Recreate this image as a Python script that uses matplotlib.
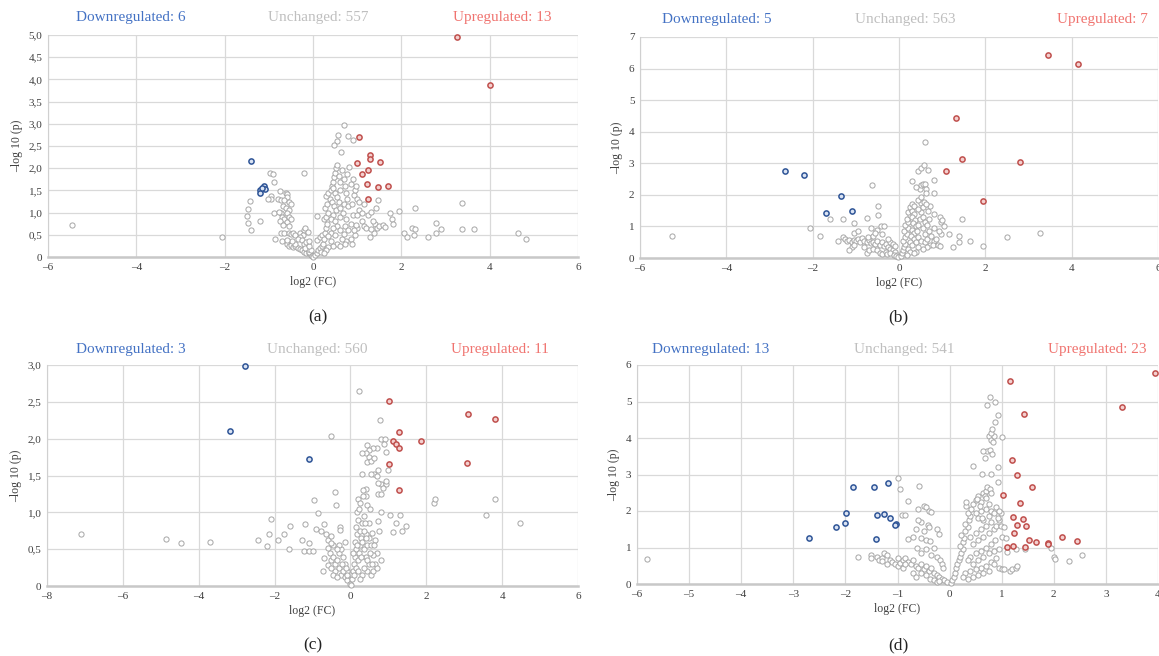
import matplotlib
matplotlib.use("Agg")
from matplotlib import pyplot as plt
from matplotlib.ticker import FuncFormatter

plt.rcParams['font.family'] = ['Liberation Serif', 'DejaVu Serif']

W, H = 1159, 656

# ---- panel (a) ----
a_up = [(3.25, 4.95), (4.0, 3.88), (1.05, 2.71), (1.28, 2.29), (1.28, 2.2), (1.52, 2.13),
        (1.0, 2.11), (1.24, 1.97), (1.1, 1.87), (1.22, 1.65), (1.48, 1.57), (1.7, 1.6), (1.25, 1.3)]
a_down = [(-1.4, 2.16), (-1.11, 1.59), (-1.09, 1.54), (-1.19, 1.52), (-1.19, 1.44), (-1.15, 1.56)]
a_grey = [(-5.45, 0.71), (-2.05, 0.45), (-1.42, 1.27), (-1.47, 1.07), (-1.5, 0.93), (-1.47, 0.76),
          (-1.4, 0.6), (-1.2, 0.82), (-0.98, 1.89), (-0.91, 1.87), (-0.88, 1.68), (-0.75, 1.48),
          (-0.95, 1.38), (-0.96, 1.3), (-0.88, 0.98), (-0.85, 0.4), (-1.03, 1.3), (-0.8, 1.3),
          (-0.72, 1.28), (-0.62, 1.45), (-0.58, 1.42), (-0.6, 1.35), (-0.65, 1.28), (-0.55, 1.25),
          (-0.5, 1.2), (-0.68, 1.15), (-0.62, 1.1), (-0.72, 1.0), (-0.78, 1.02), (-0.55, 1.05),
          (-0.6, 0.98), (-0.7, 0.9), (-0.65, 0.85), (-0.75, 0.8), (-0.55, 0.9), (-0.6, 0.78),
          (-0.68, 0.72), (-0.55, 0.7), (-0.5, 0.85), (-0.72, 0.55), (-0.65, 0.55), (-0.55, 0.55),
          (-0.5, 0.52), (-0.45, 0.55), (-0.4, 0.5), (-0.3, 0.55), (-0.2, 0.6), (-0.18, 0.65),
          (-0.12, 0.57), (-0.22, 0.5), (-0.3, 0.45), (-0.35, 0.4), (-0.25, 0.38), (-0.2, 0.3),
          (-0.15, 0.33), (-0.7, 0.35), (-0.6, 0.3), (-0.55, 0.25), (-0.5, 0.28), (-0.45, 0.22),
          (-0.4, 0.25), (-0.35, 0.2), (-0.3, 0.18), (-0.25, 0.15), (-0.2, 0.12), (-0.15, 0.1),
          (-0.1, 0.08), (-0.05, 0.04), (-0.08, 0.12), (-0.12, 0.18), (-0.18, 0.2), (-0.05, 0.15),
          (-0.1, 0.25), (-0.4, 0.3), (-0.48, 0.35), (-0.58, 0.38), (-0.08, 0.35), (-0.02, 0.02),
          (0.0, 0.0), (-0.2, 1.89),
          (0.1, 0.93), (0.05, 0.05), (0.08, 0.1), (0.12, 0.15), (0.15, 0.2), (0.18, 0.12),
          (0.2, 0.25), (0.22, 0.3), (0.1, 0.38), (0.15, 0.45), (0.2, 0.5), (0.25, 0.4),
          (0.28, 0.55), (0.3, 0.65), (0.32, 0.75), (0.25, 0.85), (0.3, 0.9), (0.35, 1.0),
          (0.28, 1.1), (0.32, 1.2), (0.38, 1.3), (0.3, 1.38), (0.35, 1.45), (0.4, 1.5),
          (0.42, 1.6), (0.45, 1.7), (0.48, 1.8), (0.5, 1.9), (0.52, 2.0), (0.55, 2.08),
          (0.45, 1.55), (0.5, 1.45), (0.55, 1.35), (0.42, 1.25), (0.48, 1.15), (0.52, 1.05),
          (0.45, 0.95), (0.4, 0.85), (0.5, 0.8), (0.55, 0.7), (0.45, 0.65), (0.4, 0.55),
          (0.35, 0.48), (0.5, 0.5), (0.6, 0.6), (0.62, 0.9), (0.6, 1.1), (0.58, 1.25),
          (0.62, 1.5), (0.6, 1.7), (0.58, 1.82), (0.65, 1.95), (0.7, 1.75), (0.72, 1.6),
          (0.75, 1.45), (0.78, 1.3), (0.7, 1.2), (0.8, 1.15), (0.68, 1.0), (0.75, 0.85),
          (0.72, 0.7), (0.8, 0.6), (0.85, 0.75), (0.9, 0.95), (0.88, 1.2), (0.92, 1.4),
          (0.95, 1.5), (0.85, 1.65), (0.9, 1.75), (0.78, 1.88), (0.98, 1.6), (1.0, 1.3),
          (1.05, 1.05), (1.1, 0.8), (1.15, 0.7), (1.0, 0.65), (0.95, 0.5), (0.85, 0.4),
          (0.75, 0.35), (0.65, 0.4), (0.55, 0.3), (0.45, 0.25), (0.35, 0.22), (0.3, 0.15),
          (0.25, 0.1), (0.4, 0.35), (0.88, 0.3), (1.2, 0.65), (1.25, 0.95), (1.32, 1.02),
          (1.4, 0.75), (1.45, 0.65), (1.38, 0.55), (1.5, 0.7), (1.58, 0.72), (1.42, 1.1),
          (1.48, 1.29), (1.35, 0.8), (1.28, 0.45), (1.1, 1.0), (1.05, 1.25), (1.0, 0.95),
          (1.15, 1.2), (0.98, 0.72), (1.32, 0.62), (0.92, 0.6), (0.7, 0.52), (0.62, 0.25),
          (0.72, 0.3), (1.62, 0.68),
          (0.7, 2.97), (0.57, 2.75), (0.55, 2.62), (0.48, 2.52), (0.79, 2.73), (0.9, 2.63),
          (0.63, 2.36), (0.82, 2.03), (3.37, 1.22), (2.3, 1.1), (1.95, 1.04), (1.75, 1.0),
          (1.78, 0.85), (1.8, 0.75), (2.25, 0.65), (2.3, 0.63), (2.05, 0.55), (2.12, 0.46),
          (2.28, 0.5), (2.6, 0.45), (2.78, 0.77), (2.78, 0.53), (2.9, 0.63), (3.38, 0.63),
          (3.65, 0.63), (4.65, 0.55), (4.82, 0.4)]

# ---- panel (b) ----
b_up = [(3.45, 6.42), (4.15, 6.15), (1.33, 4.45), (1.45, 3.15), (2.8, 3.05), (1.1, 2.77), (1.95, 1.81)]
b_down = [(-2.63, 2.77), (-2.2, 2.64), (-1.35, 1.95), (-1.1, 1.5), (-1.68, 1.41)]
b_grey = [(-5.25, 0.69), (-2.07, 0.95), (-1.83, 0.69), (-1.6, 1.25), (-1.3, 1.25), (-1.05, 1.1),
          (-1.05, 0.8), (-0.95, 0.85), (-0.73, 1.28), (-0.62, 2.31), (-0.48, 1.65), (-0.48, 1.35),
          (-0.5, 0.9), (-0.42, 1.0), (-0.35, 1.02), (-0.65, 0.95),
          (-1.42, 0.55), (-1.3, 0.68), (-1.25, 0.6), (-1.2, 0.55), (-1.15, 0.58), (-1.1, 0.52),
          (-1.05, 0.58), (-1.0, 0.55), (-0.95, 0.6), (-0.9, 0.52), (-0.85, 0.62), (-0.8, 0.55),
          (-0.75, 0.5), (-0.7, 0.58), (-0.65, 0.48), (-0.6, 0.52), (-0.55, 0.45), (-0.5, 0.55),
          (-0.45, 0.42), (-0.4, 0.5), (-0.35, 0.38), (-0.3, 0.45), (-0.25, 0.35), (-0.2, 0.3),
          (-0.15, 0.25), (-0.1, 0.2), (-0.05, 0.1), (-1.1, 0.35), (-1.15, 0.25), (-1.05, 0.4),
          (-0.72, 0.68), (-0.6, 0.7), (-0.55, 0.8), (-0.8, 0.35), (-0.75, 0.15), (-0.7, 0.25),
          (-0.6, 0.3), (-0.5, 0.25), (-0.45, 0.15), (-0.4, 0.12), (-0.3, 0.2), (-0.28, 0.12),
          (-0.2, 0.15), (-0.12, 0.1), (-0.08, 0.05), (-0.2, 0.5), (-0.15, 0.45), (-0.1, 0.38),
          (-0.25, 0.6), (-0.02, 0.02), (-0.4, 0.75),
          (0.05, 0.05), (0.08, 0.15), (0.1, 0.25), (0.12, 0.35), (0.15, 0.45), (0.1, 0.55),
          (0.15, 0.65), (0.18, 0.75), (0.12, 0.85), (0.2, 0.95), (0.15, 1.05), (0.22, 1.15),
          (0.18, 1.25), (0.25, 1.35), (0.2, 1.45), (0.28, 1.55), (0.25, 1.62), (0.3, 1.7),
          (0.35, 1.65), (0.3, 1.5), (0.35, 1.4), (0.3, 1.3), (0.38, 1.2), (0.32, 1.1),
          (0.4, 1.0), (0.3, 0.9), (0.35, 0.8), (0.28, 0.7), (0.35, 0.6), (0.25, 0.5),
          (0.3, 0.4), (0.2, 0.3), (0.25, 0.2), (0.18, 0.1), (0.4, 0.5), (0.45, 0.65),
          (0.42, 0.85), (0.45, 1.05), (0.48, 1.25), (0.5, 1.45), (0.45, 1.55), (0.5, 1.75),
          (0.55, 1.6), (0.55, 1.3), (0.6, 1.15), (0.55, 0.95), (0.6, 0.75), (0.52, 0.55),
          (0.6, 0.5), (0.65, 0.6), (0.7, 0.85), (0.65, 1.05), (0.7, 1.25), (0.68, 1.5),
          (0.72, 1.65), (0.45, 1.85), (0.5, 1.92), (0.58, 1.78), (0.62, 1.72), (0.8, 1.4),
          (0.82, 0.95), (0.75, 0.7), (0.8, 0.55), (0.72, 0.4), (0.78, 0.4), (0.65, 0.35),
          (0.55, 0.3), (0.45, 0.35), (0.4, 0.2), (0.35, 0.15), (0.48, 2.2), (0.52, 2.3),
          (0.55, 2.35), (0.6, 2.35), (0.62, 2.2), (0.4, 2.25), (0.62, 2.05), (0.45, 2.75),
          (0.52, 2.85), (0.58, 2.95), (0.67, 2.8), (0.3, 2.45), (0.82, 2.48), (0.82, 2.05),
          (0.6, 3.67), (0.9, 0.4), (0.95, 0.38), (0.98, 0.75), (0.98, 1.15), (0.95, 1.3),
          (1.0, 1.2), (1.05, 1.0), (1.15, 0.75), (1.25, 0.35), (1.38, 0.7), (1.4, 0.5),
          (1.45, 1.25), (1.65, 0.55), (1.95, 0.38), (2.5, 0.65), (3.27, 0.78), (0.85, 0.6),
          (0.92, 0.85)]

# ---- panel (c) ----
c_up = [(1.02, 2.51), (3.1, 2.34), (3.8, 2.27), (1.27, 2.09), (1.85, 1.97), (1.13, 1.97),
        (1.2, 1.93), (1.27, 1.87), (1.02, 1.65), (3.08, 1.67), (1.27, 1.3)]
c_down = [(-2.77, 2.99), (-3.17, 2.1), (-1.1, 1.72)]
c_grey = [(-7.1, 0.7), (-4.87, 0.64), (-4.47, 0.58), (-3.7, 0.6), (-2.43, 0.62), (-2.2, 0.54),
          (-2.15, 0.7), (-2.1, 0.91), (-1.92, 0.62), (-1.75, 0.71), (-1.6, 0.81), (-1.62, 0.5),
          (-1.28, 0.63), (-1.2, 0.84), (-1.22, 0.48), (-1.08, 0.58), (-1.08, 0.48), (-0.95, 1.17),
          (-0.85, 0.99), (-0.98, 0.48), (-0.9, 0.77), (-0.78, 0.75), (-0.7, 0.84), (-0.65, 0.7),
          (-0.6, 0.62), (-0.5, 0.68), (-0.4, 1.27), (-0.38, 1.1), (-0.5, 2.03), (-0.28, 0.8),
          (-0.28, 0.76), (-0.15, 0.6), (0.22, 2.65), (0.78, 2.25), (0.8, 2.0), (0.9, 2.0),
          (0.88, 1.93), (0.95, 1.82), (0.7, 1.87), (0.6, 1.88), (0.45, 1.92), (0.5, 1.85),
          (0.4, 1.8), (0.3, 1.8), (0.5, 1.75), (0.45, 1.68), (0.55, 1.7), (0.62, 1.74),
          (0.72, 1.57), (0.98, 1.57), (0.62, 1.52), (0.55, 1.52), (0.3, 1.52), (0.7, 1.5),
          (0.8, 1.38), (0.95, 1.38), (0.95, 1.42), (0.85, 1.33), (0.72, 1.4), (0.4, 1.32),
          (0.32, 1.3), (0.4, 1.22), (0.32, 1.22), (0.2, 1.18), (0.25, 1.12), (0.45, 1.1),
          (0.52, 1.05), (0.8, 1.01), (0.72, 1.25), (0.8, 1.25), (1.05, 0.96), (1.3, 0.97),
          (1.2, 0.86), (1.47, 0.81), (1.35, 0.75), (1.12, 0.73), (2.2, 1.12), (2.22, 1.18),
          (3.58, 0.97), (3.8, 1.18), (4.47, 0.86), (0.72, 0.88), (0.75, 0.75), (0.8, 0.35),
          (0.65, 0.62), (0.7, 0.45),
          (-0.55, 0.45), (-0.5, 0.35), (-0.45, 0.4), (-0.4, 0.3), (-0.35, 0.35), (-0.3, 0.45),
          (-0.25, 0.5), (-0.2, 0.4), (-0.15, 0.3), (-0.1, 0.2), (-0.05, 0.1), (-0.4, 0.2),
          (-0.3, 0.25), (-0.25, 0.15), (-0.2, 0.2), (-0.15, 0.12), (-0.1, 0.08), (-0.3, 0.55),
          (-0.45, 0.55), (-0.35, 0.5), (-0.22, 0.3), (-0.12, 0.25), (-0.08, 0.15), (-0.02, 0.03),
          (-0.6, 0.28), (-0.45, 0.15), (-0.35, 0.12), (-0.7, 0.38), (-0.72, 0.2), (-0.5, 0.25),
          (-0.6, 0.52), (-0.5, 0.58),
          (0.02, 0.02), (0.05, 0.1), (0.08, 0.2), (0.1, 0.3), (0.12, 0.4), (0.15, 0.5),
          (0.12, 0.6), (0.18, 0.7), (0.15, 0.8), (0.2, 0.9), (0.18, 1.0), (0.15, 0.25),
          (0.2, 0.35), (0.22, 0.45), (0.25, 0.55), (0.28, 0.65), (0.25, 0.75), (0.3, 0.85),
          (0.35, 0.95), (0.22, 1.05), (0.3, 0.6), (0.35, 0.5), (0.4, 0.4), (0.45, 0.55),
          (0.5, 0.65), (0.42, 0.7), (0.55, 0.55), (0.6, 0.42), (0.5, 0.3), (0.45, 0.2),
          (0.55, 0.15), (0.6, 0.2), (0.65, 0.3), (0.7, 0.25), (0.35, 0.25), (0.3, 0.15),
          (0.25, 0.1), (0.4, 0.65), (0.35, 0.75), (0.48, 0.85), (0.52, 0.45), (0.58, 0.72),
          (0.62, 0.55), (0.1, 0.15), (0.08, 0.45), (0.18, 0.55), (0.38, 0.85), (0.28, 0.4),
          (0.2, 0.2), (0.45, 0.35), (0.58, 0.3)]

# ---- panel (d) ----
d_up = [(3.95, 5.78), (1.15, 5.57), (3.3, 4.85), (1.42, 4.65), (1.2, 3.4), (1.3, 3.0),
        (1.58, 2.67), (1.03, 2.43), (1.35, 2.23), (1.22, 1.83), (1.4, 1.77), (1.3, 1.62),
        (1.47, 1.58), (1.23, 1.4), (1.53, 1.2), (1.65, 1.14), (1.88, 1.13), (1.88, 1.1),
        (2.15, 1.29), (2.44, 1.18), (1.1, 1.02), (1.22, 1.04), (1.45, 1.02)]
d_down = [(-1.85, 2.67), (-1.45, 2.65), (-1.18, 2.77), (-1.98, 1.95), (-1.4, 1.88), (-1.25, 1.92),
          (-1.15, 1.8), (-2.0, 1.68), (-1.02, 1.65), (-1.05, 1.62), (-2.18, 1.55), (-2.7, 1.27),
          (-1.42, 1.22)]
d_grey = [(-5.8, 0.68), (-1.75, 0.73), (-1.5, 0.8), (-1.5, 0.7), (-1.4, 0.75), (-1.35, 0.65),
          (-1.3, 0.72), (-1.25, 0.85), (-1.2, 0.8), (-1.15, 0.65), (-1.1, 0.6), (-1.05, 0.55),
          (-1.0, 0.5), (-0.95, 0.58), (-0.9, 0.65), (-0.85, 0.7), (-0.8, 0.6), (-0.75, 0.55),
          (-0.7, 0.65), (-0.65, 0.5), (-0.6, 0.45), (-0.55, 0.55), (-0.5, 0.4), (-0.45, 0.5),
          (-0.4, 0.35), (-0.35, 0.45), (-0.3, 0.3), (-0.25, 0.25), (-0.2, 0.2), (-0.15, 0.15),
          (-0.1, 0.1), (-0.05, 0.05), (-1.0, 2.9), (-0.95, 2.6), (-0.58, 2.68), (-0.8, 2.28),
          (-0.92, 1.9), (-0.85, 1.9), (-0.6, 2.05), (-0.5, 2.15), (-0.45, 2.1), (-0.4, 2.0),
          (-0.35, 1.98), (-0.55, 1.7), (-0.6, 1.75), (-0.65, 1.5), (-0.5, 1.45), (-0.42, 1.62),
          (-0.4, 1.55), (-0.25, 1.5), (-0.2, 1.38), (-0.8, 1.22), (-0.7, 1.3), (-0.55, 1.25),
          (-0.45, 1.2), (-0.38, 1.18), (-0.3, 1.0), (-0.55, 0.85), (-0.62, 1.0), (-0.45, 0.95),
          (-0.35, 0.8), (-0.25, 0.75), (-0.18, 0.65), (-0.15, 0.55), (-0.12, 0.45), (-0.7, 0.3),
          (-0.65, 0.2), (-0.55, 0.3), (-0.45, 0.25), (-0.38, 0.15), (-0.3, 0.1), (-0.25, 0.05),
          (-0.2, 0.08), (-0.9, 0.45), (-0.85, 0.55), (-1.2, 0.55), (-1.3, 0.62), (-1.0, 0.72),
          (0.02, 0.02), (0.05, 0.1), (0.08, 0.2), (0.1, 0.3), (0.12, 0.45), (0.15, 0.55),
          (0.18, 0.65), (0.2, 0.75), (0.22, 0.85), (0.25, 0.95), (0.2, 1.05), (0.25, 1.15),
          (0.28, 1.25), (0.22, 1.35), (0.3, 1.45), (0.35, 1.55), (0.3, 1.65), (0.38, 1.75),
          (0.4, 1.85), (0.35, 1.95), (0.42, 2.05), (0.45, 2.2), (0.5, 2.3), (0.55, 2.4),
          (0.6, 2.25), (0.65, 2.5), (0.7, 2.55), (0.72, 2.65), (0.68, 2.4), (0.75, 2.2),
          (0.7, 2.05), (0.6, 2.0), (0.5, 1.95), (0.55, 1.8), (0.65, 1.75), (0.75, 1.85),
          (0.8, 2.0), (0.85, 1.95), (0.9, 2.1), (0.8, 1.7), (0.7, 1.6), (0.6, 1.5),
          (0.5, 1.4), (0.4, 1.3), (0.45, 1.1), (0.55, 1.2), (0.65, 1.3), (0.75, 1.4),
          (0.85, 1.5), (0.9, 1.6), (0.95, 1.75), (0.88, 1.2), (0.8, 1.1), (0.7, 1.0),
          (0.6, 0.9), (0.5, 0.85), (0.4, 0.75), (0.35, 0.65), (0.45, 0.55), (0.55, 0.65),
          (0.65, 0.75), (0.75, 0.85), (0.85, 0.9), (0.95, 0.95), (0.9, 0.7), (0.8, 0.6),
          (0.7, 0.5), (0.6, 0.45), (0.5, 0.4), (0.4, 0.35), (0.3, 0.3), (0.25, 0.2),
          (0.35, 0.15), (0.45, 0.2), (0.55, 0.25), (0.65, 0.3), (0.75, 0.35), (0.85, 0.55),
          (0.95, 0.45), (1.0, 0.4), (1.05, 0.42), (1.15, 0.35), (1.2, 0.4), (1.28, 0.45),
          (1.3, 0.48), (1.1, 0.88), (1.0, 1.3), (0.98, 1.6), (1.45, 0.95), (1.28, 0.95),
          (1.95, 0.98), (2.0, 0.73), (2.02, 0.68), (2.3, 0.63), (2.55, 0.8),
          (0.45, 3.22), (0.62, 3.02), (0.8, 3.02), (0.72, 3.65), (0.65, 3.65), (0.78, 3.68),
          (0.82, 3.55), (0.68, 3.45), (0.75, 4.05), (0.8, 3.95), (0.83, 3.9), (0.85, 4.05),
          (0.8, 4.15), (0.82, 4.25), (0.88, 4.45), (0.92, 4.62), (0.88, 4.98), (0.78, 5.12),
          (0.72, 4.9), (1.0, 4.02), (0.92, 3.2), (0.92, 2.8), (0.78, 2.6), (0.8, 2.5),
          (0.7, 2.35), (0.58, 2.15), (0.32, 2.15), (0.32, 2.25), (0.52, 2.32), (0.98, 1.95),
          (0.95, 2.0), (0.92, 1.8), (0.62, 1.8), (1.08, 1.25), (1.05, 1.55)]

counts = {'a': (6, 557, 13), 'b': (5, 563, 7), 'c': (3, 560, 11), 'd': (13, 541, 23)}

BLUE_TXT, GREY_TXT, RED_TXT = '#4472C4', '#BFBFBF', '#F07470'


def px_rect(l, r, t, b):
    return [l / W, 1 - b / H, (r - l) / W, (b - t) / H]


def comma(v, pos):
    if abs(v) < 1e-9:
        return '0'
    return f'{v:.1f}'.replace('.', ',')


def integer(v, pos):
    return f'{v:.0f}'.replace('-', '\u2212')


def xfmt(v, pos):
    return f'{v:.0f}'.replace('-', '\u2013')


def panel(rect, grey, down, up, xlim, xstep, ylim, ystep, yfmt):
    ax = fig.add_axes(rect)
    for pts, ec, fc, lw in [(grey, '#A6A6A6', 'white', 0.7),
                            (down, '#2F5597', '#DAE3F3', 1.1),
                            (up, '#C0504D', '#F4D0CF', 1.1)]:
        xs = [p[0] for p in pts]
        ys = [p[1] for p in pts]
        ax.scatter(xs, ys, s=14, facecolors=fc, edgecolors=ec, linewidths=lw, zorder=3,
                   clip_on=False)
    ax.set_xlim(*xlim)
    ax.set_ylim(*ylim)
    xt = []
    v = xlim[0]
    while v <= xlim[1] + 1e-9:
        xt.append(v)
        v += xstep
    yt = []
    v = ylim[0]
    while v <= ylim[1] + 1e-9:
        yt.append(v)
        v += ystep
    ax.set_xticks(xt)
    ax.set_yticks(yt)
    ax.xaxis.set_major_formatter(FuncFormatter(xfmt))
    ax.yaxis.set_major_formatter(FuncFormatter(yfmt))
    ax.grid(True, color='#D9D9D9', linewidth=0.9, zorder=0)
    ax.set_axisbelow(True)
    for s in ['top', 'right']:
        ax.spines[s].set_visible(False)
    ax.spines['left'].set_color('#D0D0D0')
    ax.spines['bottom'].set_color('#C8C8C8')
    ax.spines['bottom'].set_linewidth(1.8)
    ax.tick_params(length=0, labelsize=8, colors='#404040', pad=4)
    ax.set_xlabel('log2 (FC)', fontsize=8.5, color='#404040', labelpad=3)
    ax.set_ylabel('\u2013log 10 (p)', fontsize=8.5, color='#404040', labelpad=4)
    return ax


fig = plt.figure(figsize=(W / 100, H / 100), dpi=100)

panel(px_rect(48, 578, 35, 257), a_grey, a_down, a_up, (-6, 6), 2, (0, 5), 0.5, comma)
panel(px_rect(640, 1158, 37, 258), b_grey, b_down, b_up, (-6, 6), 2, (0, 7), 1, integer)
panel(px_rect(47, 578, 365, 586), c_grey, c_down, c_up, (-8, 6), 2, (0, 3), 0.5, comma)
panel(px_rect(637, 1158, 365, 584), d_grey, d_down, d_up, (-6, 4), 1, (0, 6), 1, integer)

headers = [('a', 131, 318, 502, 18, 318, 317),
           ('b', 717, 905, 1102, 20, 898, 317),
           ('c', 131, 317, 500, 349, 313, 645),
           ('d', 711, 904, 1097, 349, 898, 645)]
for key, xd, xu, xr, yh, xl, yl in headers:
    dn, un, upn = counts[key]
    fig.text(xd / W, 1 - yh / H, f'Downregulated: {dn}', color=BLUE_TXT, fontsize=11,
             ha='center', va='center')
    fig.text(xu / W, 1 - yh / H, f'Unchanged: {un}', color=GREY_TXT, fontsize=11,
             ha='center', va='center')
    fig.text(xr / W, 1 - yh / H, f'Upregulated: {upn}', color=RED_TXT, fontsize=11,
             ha='center', va='center')
    fig.text(xl / W, 1 - yl / H, f'({key})', color='#222222', fontsize=12.5,
             ha='center', va='center')

fig.savefig('out.png', dpi=100)
